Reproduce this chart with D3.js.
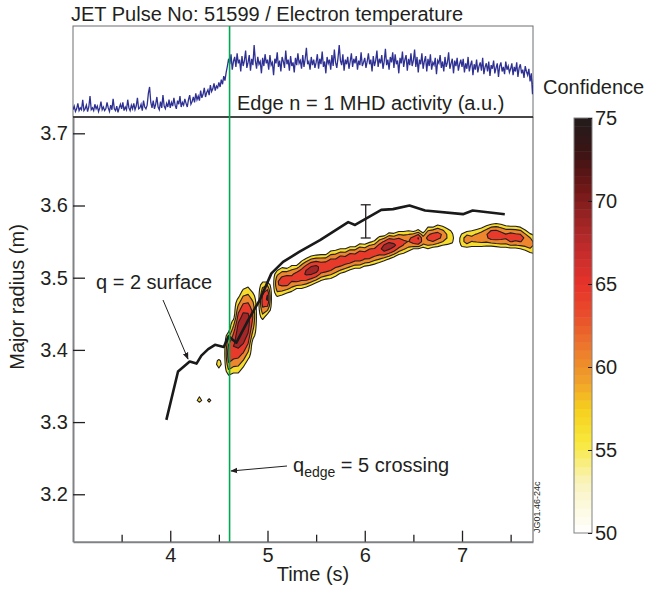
<!DOCTYPE html>
<html>
<head>
<meta charset="utf-8">
<script src="https://cdn.jsdelivr.net/npm/d3@7"></script>
<style>
body { margin: 0; background: #fff; }
svg { font-family: "Liberation Sans", Arial, sans-serif; }
text { fill: #231f20; }
</style>
</head>
<body>
<script>
// MHD trace, sampled every 0.0125 s from 3.0 s (a.u.)
var mhdStart = 3.0, mhdStep = 0.0125;
var mhdValues = [
  0.8,1.2,0.6,0.9,1.5,0.7,1.0,0.8,1.9,0.7,0.9,1.3,0.6,1.1,2.3,0.8,1.0,0.7,1.4,0.9,1.2,0.6,1.0,1.7,0.8,1.1,0.7,0.9,1.6,1.0,0.6,1.3,0.8,2.0,0.9,0.7,1.2,0.5,1.0,1.4,
  0.9,1.6,0.7,1.1,0.8,1.9,1.0,0.7,1.3,0.9,1.5,0.8,1.2,2.1,0.9,1.0,1.4,0.7,1.8,1.1,0.9,1.3,2.6,3.3,1.6,1.0,1.8,0.9,1.4,2.2,1.1,0.8,1.7,1.0,2.4,1.2,0.9,1.5,1.1,1.9,
  1.0,1.6,1.2,2.1,1.3,0.9,1.8,1.4,2.3,1.1,1.6,1.3,2.0,1.5,1.1,1.9,2.4,1.4,1.7,2.2,1.6,2.6,1.9,2.3,1.8,2.9,2.1,2.5,3.2,2.2,2.7,3.0,2.4,3.5,2.8,3.1,3.7,2.9,3.4,3.2,
  3.8,3.3,4.1,3.6,4.5,4.0,4.9,5.6,6.4,5.8,6.9,5.2,6.1,6.6,5.5,7.0,5.9,6.3,5.0,6.7,5.6,6.2,7.3,5.4,6.0,6.8,5.1,6.4,5.7,7.9,6.2,5.3,6.6,5.8,6.1,4.8,6.5,5.6,6.9,5.9,
  6.3,5.2,6.8,5.7,6.0,4.6,6.4,5.9,7.1,5.5,6.2,5.0,6.6,6.1,5.4,7.3,5.8,6.3,5.1,6.7,5.6,6.0,4.9,6.5,5.7,7.0,5.9,6.2,5.3,6.8,5.5,6.4,7.6,5.8,6.1,5.2,6.6,5.7,6.3,5.4,
  6.0,6.9,5.3,6.4,5.8,7.2,5.5,6.1,4.8,6.6,5.9,6.3,5.2,6.8,5.6,7.4,6.0,5.4,6.5,7.9,6.2,5.7,6.9,5.1,6.3,5.8,6.6,5.3,6.1,7.0,5.5,6.4,5.9,6.7,5.2,6.2,5.7,7.1,5.6,6.0,
  6.5,5.4,6.1,7.0,5.8,6.3,5.0,6.7,5.6,6.2,7.3,5.5,6.4,5.9,6.8,5.3,6.1,7.5,5.7,6.3,5.2,6.6,6.0,7.1,5.4,6.9,5.8,6.2,4.8,6.5,5.9,7.2,5.5,6.3,6.8,5.1,6.4,5.7,7.0,5.6,
  6.2,7.4,5.5,6.6,4.9,6.3,5.8,7.0,5.3,6.1,6.7,5.0,6.4,5.6,6.9,5.2,6.0,5.7,6.5,4.7,6.2,5.9,6.8,5.4,6.1,5.0,6.6,5.5,6.0,7.1,5.3,5.9,6.4,4.8,6.2,5.6,6.5,5.1,5.8,6.3,
  5.5,6.4,4.9,5.9,5.3,6.6,5.0,5.7,6.2,4.6,5.8,5.2,6.3,4.9,5.6,6.0,5.1,6.5,4.7,5.5,5.9,5.0,6.1,4.5,5.7,5.3,6.2,4.8,5.4,5.9,4.4,5.6,6.0,5.0,5.5,4.7,6.1,5.2,5.6,4.9,
  5.3,5.9,4.6,5.5,5.0,6.0,4.4,5.4,5.8,4.8,5.2,4.3,5.6,5.0,4.6,5.3,3.9,4.8,2.5,4.4
];

// q = 2 surface
var q2Time   = [3.96, 4.08, 4.20, 4.27, 4.32, 4.39, 4.46, 4.55, 4.60, 4.68, 4.80, 4.92, 5.04, 5.16, 5.33, 5.54, 5.83, 5.90, 6.17, 6.29, 6.46, 6.62, 7.01, 7.11, 7.44];
var q2Radius = [3.303, 3.370, 3.384, 3.381, 3.392, 3.401, 3.407, 3.404, 3.419, 3.410, 3.441, 3.469, 3.506, 3.522, 3.536, 3.552, 3.577, 3.573, 3.594, 3.595, 3.600, 3.593, 3.588, 3.593, 3.588];

// error bar on q = 2 position
var errTime = 6.01, errLow = 3.555, errHigh = 3.601;

// confidence ridge, one column every 0.05 s from 4.25 s
var ridgeStart = 4.25, ridgeStep = 0.05;
var ridgeCenter = [null,3.331,null,3.330,null,3.381,null,3.395,3.405,3.420,3.430,3.437,3.447,null,3.468,3.472,null,
  3.492,3.495,3.496,3.499,3.501,3.504,3.507,3.510,3.512,3.514,3.515,3.518,3.520,3.523,3.524,3.527,3.528,3.530,3.531,
  3.533,3.535,3.539,3.541,3.544,3.545,3.548,3.549,3.551,3.552,3.553,3.552,3.555,3.556,3.558,3.558,3.557,3.555,
  null,3.552,3.553,3.554,3.555,3.556,3.558,3.559,3.559,3.558,3.557,3.556,3.556,3.555,3.552,3.548,3.545];
var ridgeWidth = [null,0.004,null,0.003,null,0.006,null,0.030,0.037,0.052,0.054,0.050,0.032,null,0.026,0.022,null,
  0.018,0.019,0.017,0.018,0.016,0.019,0.020,0.020,0.019,0.018,0.017,0.019,0.018,0.017,0.016,0.016,0.015,0.017,0.015,
  0.016,0.016,0.018,0.017,0.018,0.016,0.016,0.015,0.014,0.012,0.013,0.010,0.015,0.014,0.015,0.013,0.011,0.007,
  null,0.009,0.011,0.011,0.012,0.013,0.014,0.015,0.016,0.016,0.015,0.015,0.015,0.015,0.014,0.013,0.012];
var ridgePeak = [null,58,null,56.5,null,58,null,66,67,70,71,69,63,null,65,68,null,
  63,65,66,64,66,66,68,69,69,66,66,66,65,66,65,66,65,66,
  65,66,65,66,69,69,68,66,64,63,66,68,62,64,66,65,63,59,56,
  null,58,62,60,61,62,63,66,66,65,64,66,65,65,63,62,58];

var contourLevels = [55, 59, 63, 67];

// colour bar
var cbStops  = [50, 53, 55.5, 57.5, 59, 61, 63, 65, 67, 69, 71, 73, 75];
var cbColors = ["#ffffff","#f9f3c0","#f8e83a","#f6cf1e","#f1a52a","#ec7c2c","#e9502c","#e6332a","#c42c2c","#9a2424","#6a1616","#3a1414","#221c1c"];
var cbTicks = [50, 55, 60, 65, 70, 75];

var xTicks = [4, 5, 6, 7], xMinor = [3.5, 4.5, 5.5, 6.5, 7.5];
var yTicks = [3.2, 3.3, 3.4, 3.5, 3.6, 3.7];
var crossingTime = 4.61;

var W = 647, H = 592;
var left = 73, right = 533, topTop = 26, mainTop = 117, bottom = 541.7;

var svg = d3.select("body").append("svg")
    .attr("width", W)
    .attr("height", H);

var x = d3.scaleLinear().domain([3.0, 7.73]).range([left, right]);
var y = d3.scaleLinear().domain([3.1343, 3.7226]).range([bottom, mainTop]);
var yMhd = d3.scaleLinear().domain([0, 10]).range([mainTop, topTop]);
var color = d3.scaleLinear().domain(cbStops).range(cbColors);

var defs = svg.append("defs");
defs.append("clipPath").attr("id", "plotclip")
  .append("rect").attr("x", left).attr("y", mainTop).attr("width", right - left).attr("height", bottom - mainTop);
defs.append("clipPath").attr("id", "topclip")
  .append("rect").attr("x", left).attr("y", topTop).attr("width", right - left).attr("height", mainTop - topTop);
defs.append("marker").attr("id", "arr").attr("viewBox", "0 0 10 10")
  .attr("refX", 9).attr("refY", 5).attr("markerWidth", 7).attr("markerHeight", 7)
  .attr("markerUnits", "userSpaceOnUse").attr("orient", "auto")
  .append("path").attr("d", "M0,1L10,5L0,9z").attr("fill", "#231f20");

// title
svg.append("text").attr("x", 71).attr("y", 21).style("font-size", "20px")
  .text("JET Pulse No: 51599 / Electron temperature");

// top panel
svg.append("rect").attr("x", left).attr("y", topTop).attr("width", right - left).attr("height", mainTop - topTop)
  .attr("fill", "none").attr("stroke", "#6d6e71").attr("stroke-width", 1);

var mhdLine = d3.line()
  .x(function(d, i) { return x(mhdStart + i * mhdStep); })
  .y(function(d) { return yMhd(d); });

svg.append("path").datum(mhdValues)
  .attr("clip-path", "url(#topclip)")
  .attr("d", mhdLine)
  .attr("fill", "none").attr("stroke", "#2e3192").attr("stroke-width", 1.3);

svg.append("text").attr("x", 237).attr("y", 110).style("font-size", "20px")
  .text("Edge n = 1 MHD activity (a.u.)");

// contours of confidence
var nCols = ridgePeak.length, rMin = 3.27, rStep = 0.005, nRows = 79;
var grid = new Array(nCols * nRows);
for (var j = 0; j < nRows; j++) {
  for (var i = 0; i < nCols; i++) {
    var r = rMin + j * rStep, v = 52;
    if (ridgePeak[i] != null) {
      var dd = Math.abs(r - ridgeCenter[i]) / ridgeWidth[i];
      v = Math.max(52, ridgePeak[i] - (ridgePeak[i] - 55) * Math.pow(dd, 1.5));
    }
    grid[j * nCols + i] = v;
  }
}
var contours = d3.contours().size([nCols, nRows]).thresholds(contourLevels)(grid);
var proj = d3.geoTransform({
  point: function(px, py) {
    this.stream.point(x(ridgeStart + (px - 0.5) * ridgeStep), y(rMin + (py - 0.5) * rStep));
  }
});
svg.append("g").attr("clip-path", "url(#plotclip)")
  .selectAll("path")
  .data(contours)
  .enter().append("path")
    .attr("d", d3.geoPath(proj))
    .attr("fill", function(d) { return color(d.value + 1.5); })
    .attr("stroke", "#231f20")
    .attr("stroke-width", 1.1)
    .attr("stroke-linejoin", "round");

// q = 2 line
var q2Line = d3.line()
  .x(function(d, i) { return x(q2Time[i]); })
  .y(function(d) { return y(d); });
svg.append("path").datum(q2Radius)
  .attr("clip-path", "url(#plotclip)")
  .attr("d", q2Line)
  .attr("fill", "none").attr("stroke", "#1a1a1a").attr("stroke-width", 2.6)
  .attr("stroke-linejoin", "round");

// error bar
var eb = svg.append("g").attr("stroke", "#231f20").attr("stroke-width", 1.3);
eb.append("line").attr("x1", x(errTime)).attr("x2", x(errTime)).attr("y1", y(errHigh)).attr("y2", y(errLow));
eb.append("line").attr("x1", x(errTime) - 5).attr("x2", x(errTime) + 5).attr("y1", y(errHigh)).attr("y2", y(errHigh));
eb.append("line").attr("x1", x(errTime) - 5).attr("x2", x(errTime) + 5).attr("y1", y(errLow)).attr("y2", y(errLow));

// axes
var xAxis = svg.append("g").attr("transform", "translate(0," + bottom + ")")
  .call(d3.axisBottom(x).tickValues(xTicks).tickFormat(d3.format("d")).tickSize(-11).tickSizeOuter(0).tickPadding(6));
var xAxisMinor = svg.append("g").attr("transform", "translate(0," + bottom + ")")
  .call(d3.axisBottom(x).tickValues(xMinor).tickFormat("").tickSize(-7).tickSizeOuter(0));
xAxisMinor.select(".domain").remove();

var yAxis = svg.append("g").attr("transform", "translate(" + left + ",0)")
  .call(d3.axisLeft(y).tickValues(yTicks).tickFormat(d3.format(".1f")).tickSize(-12).tickSizeOuter(0).tickPadding(5));

[xAxis, yAxis].forEach(function(a) {
  a.select(".domain").attr("stroke", "#808285").attr("stroke-width", 2);
  a.selectAll("text").style("font-size", "20px").attr("fill", "#231f20");
});
svg.selectAll(".tick line").attr("stroke", "#231f20").attr("stroke-width", 1.3);

// right frame of main plot + separator
svg.append("line").attr("x1", right).attr("x2", right).attr("y1", mainTop).attr("y2", bottom)
  .attr("stroke", "#58595b").attr("stroke-width", 1);
svg.append("line").attr("x1", left).attr("x2", right).attr("y1", mainTop).attr("y2", mainTop)
  .attr("stroke", "#231f20").attr("stroke-width", 1.3);

// crossing line
svg.append("line").attr("x1", x(crossingTime)).attr("x2", x(crossingTime)).attr("y1", topTop).attr("y2", bottom)
  .attr("stroke", "#00a651").attr("stroke-width", 1.6);

// axis titles
svg.append("text").attr("transform", "translate(24,297) rotate(-90)")
  .attr("text-anchor", "middle").style("font-size", "20px").text("Major radius (m)");
svg.append("text").attr("x", 313).attr("y", 581)
  .attr("text-anchor", "middle").style("font-size", "20px").text("Time (s)");

// annotations
svg.append("text").attr("x", 96).attr("y", 289).style("font-size", "20px").text("q = 2 surface");
svg.append("line").attr("x1", 163).attr("y1", 300).attr("x2", 188).attr("y2", 359)
  .attr("stroke", "#231f20").attr("stroke-width", 1).attr("marker-end", "url(#arr)");

var qe = svg.append("text").attr("x", 293).attr("y", 472).style("font-size", "20px");
qe.append("tspan").text("q");
qe.append("tspan").attr("dy", 5).style("font-size", "14px").text("edge");
qe.append("tspan").attr("dy", -5).text(" = 5 crossing");
svg.append("line").attr("x1", 287).attr("y1", 466).attr("x2", 231).attr("y2", 471)
  .attr("stroke", "#231f20").attr("stroke-width", 1).attr("marker-end", "url(#arr)");

// colour bar
var cbX = 574, cbW = 18, cbTop = 118, cbBottom = 533;
var cbY = d3.scaleLinear().domain([50, 75]).range([cbBottom, cbTop]);
var cbBands = d3.range(50, 75, 0.5);
svg.append("g").selectAll("rect")
  .data(cbBands)
  .enter().append("rect")
    .attr("x", cbX).attr("width", cbW)
    .attr("y", function(d) { return cbY(d + 0.5); })
    .attr("height", function(d) { return cbY(d) - cbY(d + 0.5) + 0.5; })
    .attr("fill", function(d) { return color(d + 0.25); });
svg.append("rect").attr("x", cbX).attr("y", cbTop).attr("width", cbW).attr("height", cbBottom - cbTop)
  .attr("fill", "none").attr("stroke", "#808285").attr("stroke-width", 1);

var cbAxis = svg.append("g").attr("transform", "translate(" + (cbX + cbW) + ",0)")
  .call(d3.axisRight(cbY).tickValues(cbTicks).tickSize(-4).tickPadding(3));
cbAxis.select(".domain").remove();
cbAxis.selectAll(".tick line").attr("stroke", "#231f20").attr("stroke-width", 1);
cbAxis.selectAll("text").style("font-size", "20px").attr("fill", "#231f20");

svg.append("text").attr("x", 543).attr("y", 94).style("font-size", "20px").text("Confidence");

svg.append("text").attr("transform", "translate(540,533) rotate(-90)")
  .style("font-size", "9px").text("JG01.46-24c");
</script>
</body>
</html>
